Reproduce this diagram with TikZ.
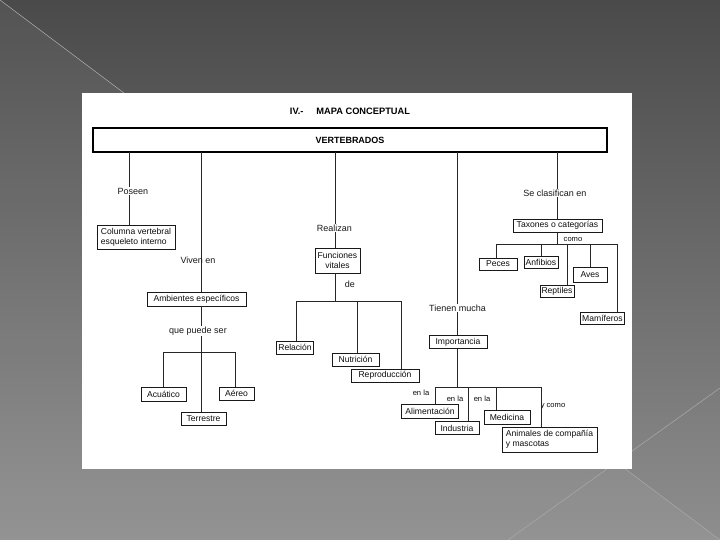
\documentclass[tikz,border=0pt]{standalone}
\usepackage{fontspec}
\setmainfont{Liberation Sans}
\definecolor{bgtop}{HTML}{4A4A4A}
\definecolor{bgbot}{HTML}{8E8E8E}
\definecolor{slideline}{HTML}{A8A8A8}
\begin{document}
\begin{tikzpicture}[x=0.25mm,y=-0.25mm,
  box/.style={draw=black!90,line width=0.6pt,inner sep=1pt,text=black!95,font=\fontsize{6.1}{6.9}\selectfont},
  lbl/.style={inner sep=0.4pt,text=black!90,font=\fontsize{6.4}{7.2}\selectfont},
  tiny/.style={inner sep=0.4pt,text=black!95,font=\fontsize{5.4}{6}\selectfont},
  link/.style={draw=black!85,line width=0.6pt}]
\useasboundingbox (0,0) rectangle (720,540);
\shade[top color=bgtop,bottom color=bgbot] (0,0) rectangle (720,540);
\fill[white,opacity=0.05] (0,0) -- (720,540) -- (0,540) -- cycle;
\draw[slideline,line width=0.4pt] (0,0) -- (720,540);
\draw[slideline,line width=0.4pt] (720,388) -- (508,540);
\fill[white] (82,93) rectangle (632,469);

\node[font=\bfseries\fontsize{6.6}{7.5}\selectfont] (title) at (350,111) {IV.-\hspace{3.2mm}MAPA CONCEPTUAL};
\node[draw,line width=1pt,minimum width=128.5mm,minimum height=6mm,font=\bfseries\fontsize{6.4}{7.5}\selectfont] (vert) at (350,140) {VERTEBRADOS};

\coordinate (k1) at (129,152);
\coordinate (k2) at (201,152);
\coordinate (k3) at (335,152);
\coordinate (k4) at (457,152);
\coordinate (k5) at (557,152);

\node[lbl] (pos) at (133,191) {Poseen};
\node[box,align=left,minimum width=19.5mm,minimum height=6mm] (col) at (136,237) {Columna vertebral\\esqueleto interno};
\draw[link] (k1) -- (k1 |- pos.north);
\draw[link] (k1 |- pos.south) -- (k1 |- col.north);

\node[box,minimum width=24.75mm,minimum height=3.5mm] (amb) at (196.5,299) {Ambientes específicos};
\node[lbl] (que) at (198,331) {que puede ser};
\node[box,minimum width=11.25mm,minimum height=3.5mm] (aca) at (163.5,394) {Acuático};
\node[box,minimum width=8.75mm,minimum height=3.25mm] (aer) at (236.5,393.5) {Aéreo};
\node[box,minimum width=11.25mm,minimum height=3.25mm] (ter) at (203.5,418.5) {Terrestre};
\coordinate (a1) at (163,352);
\coordinate (a2) at (235,352);
\draw[link] (k2) -- (k2 |- amb.north);
\node[lbl] (viv) at (198,260) {Viven en};
\draw[link] (k2 |- amb.south) -- (k2 |- que.north);
\draw[link] (k2 |- que.south) -- (k2 |- ter.north);
\draw[link] (a1 |- aca.north) -- (a1) -- (a2) -- (a2 |- aer.north);

\node[lbl] (rea) at (334.5,228) {Realizan};
\node[box,align=center,minimum width=11.25mm,minimum height=6.25mm] (fun) at (337.5,260.5) {Funciones\\vitales};
\node[lbl] (de) at (350,284) {de};
\node[box,minimum width=9mm,minimum height=3.25mm] (rel) at (295,347.5) {Relación};
\node[box,minimum width=11.75mm,minimum height=3.25mm] (nut) at (355.5,359.5) {Nutrición};
\node[box,minimum width=17mm,minimum height=3.25mm] (rep) at (385,375.5) {Reproducción};
\coordinate (f1) at (296,301);
\coordinate (f2) at (357,301);
\coordinate (f3) at (401,301);
\draw[link] (k3) -- (k3 |- rea.north);
\draw[link] (k3 |- rea.south) -- (k3 |- fun.north);
\draw[link] (k3 |- fun.south) -- (k3 |- f1);
\draw[link] (f1 |- rel.north) -- (f1) -- (f3) -- (f3 |- rep.north);
\draw[link] (f2) -- (f2 |- nut.north);

\node[lbl] (tie) at (457.5,308) {Tienen mucha};
\node[box,minimum width=14.5mm,minimum height=3.25mm] (imp) at (458,342) {Importancia};
\node[box,minimum width=14.25mm,minimum height=3.5mm] (ali) at (430,411.5) {Alimentación};
\node[box,minimum width=11mm,minimum height=3.25mm] (ind) at (457,428) {Industria};
\node[box,minimum width=11.5mm,minimum height=3.5mm] (med) at (507,417) {Medicina};
\node[box,align=left,minimum width=23.75mm,minimum height=6.25mm] (ani) at (549.5,439.5) {Animales de compañía\\y mascotas};
\node[tiny] (en1) at (421,393) {en la};
\node[tiny] (en2) at (455,399) {en la};
\node[tiny] (en3) at (482,399) {en la};
\node[tiny] (yco) at (553,406) {y como};
\coordinate (i1) at (435,387);
\coordinate (i2) at (468,387);
\coordinate (i3) at (496,387);
\coordinate (i4) at (541,387);
\draw[link] (k4) -- (k4 |- tie.north);
\draw[link] (k4 |- tie.south) -- (k4 |- imp.north);
\draw[link] (k4 |- imp.south) -- (k4 |- i1);
\draw[link] (i1 |- ali.north) -- (i1) -- (i4) -- (i4 |- ani.north);
\draw[link] (i2) -- (i2 |- ind.north);
\draw[link] (i3) -- (i3 |- med.north);

\node[lbl] (sec) at (555,193) {Se clasifican en};
\node[box,minimum width=22.25mm,minimum height=3.25mm] (tax) at (557.5,225.5) {Taxones o categorías};
\node[tiny] (com) at (573,239) {como};
\node[box,minimum width=9.5mm,minimum height=3mm] (pec) at (498,264) {Peces};
\node[box,minimum width=8.5mm,minimum height=3mm] (anf) at (541,262) {Anfibios};
\node[box,minimum width=8.5mm,minimum height=3.75mm] (ave) at (590,274.5) {Aves};
\node[box,minimum width=8.5mm,minimum height=3mm] (rpt) at (557,291.5) {Reptiles};
\node[box,minimum width=10.75mm,minimum height=3mm] (mam) at (602.5,318) {Mamíferos};
\coordinate (t1) at (496,244);
\coordinate (t2) at (541,244);
\coordinate (t3) at (567,244);
\coordinate (t4) at (590,244);
\coordinate (t5) at (617,244);
\draw[link] (k5) -- (k5 |- sec.north);
\draw[link] (k5 |- sec.south) -- (k5 |- tax.north);
\draw[link] (k5 |- tax.south) -- (k5 |- t1);
\draw[link] (t1 |- pec.north) -- (t1) -- (t5) -- (t5 |- mam.north);
\draw[link] (t2) -- (t2 |- anf.north);
\draw[link] (t3) -- (t3 |- rpt.north);
\draw[link] (t4) -- (t4 |- ave.north);
\end{tikzpicture}
\end{document}
